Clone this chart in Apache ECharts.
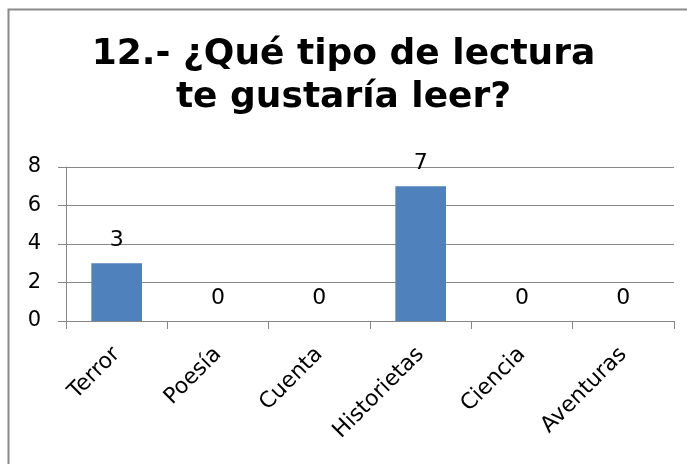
<!DOCTYPE html>
<html>
<head>
<meta charset="utf-8">
<script src="https://cdn.jsdelivr.net/npm/echarts@6/dist/echarts.min.js"></script>
<style>html,body{margin:0;padding:0;background:#fff}#c{width:687px;height:464px}</style>
</head>
<body>
<div id="c"></div>
<script>
const titleText = '12.- ¿Qué tipo de lectura\nte gustaría leer?';
const categories = ['Terror', 'Poesía', 'Cuenta', 'Historietas', 'Ciencia', 'Aventuras'];
const values = [3, 0, 0, 7, 0, 0];
const yMin = 0, yMax = 8, yInterval = 2;

const FONT = '"DejaVu Sans", sans-serif';
const chart = echarts.init(document.getElementById('c'));
chart.setOption({
  animation: false,
  backgroundColor: '#fff',
  title: {
    text: titleText,
    left: 'center',
    top: 28,
    textStyle: { fontFamily: FONT, fontWeight: 'bold', fontSize: 36, lineHeight: 43, color: '#000' }
  },
  graphic: [{
    type: 'rect',
    shape: { x: 8.5, y: 9.5, width: 720, height: 520 },
    style: { fill: 'none', stroke: '#8a8a8a', lineWidth: 2 },
    silent: true
  }],
  grid: { left: 66, right: 13, top: 167, bottom: 143, containLabel: false },
  xAxis: {
    type: 'category',
    data: categories,
    axisLine: { show: true, lineStyle: { color: '#868686', width: 1 } },
    axisTick: { show: true, alignWithLabel: false, length: 8, lineStyle: { color: '#868686' } },
    axisLabel: { rotate: 45, margin: 30, fontFamily: FONT, fontSize: 22, color: '#000', interval: 0 }
  },
  yAxis: {
    type: 'value',
    min: yMin, max: yMax, interval: yInterval,
    axisLine: { show: true, lineStyle: { color: '#868686', width: 1 } },
    axisTick: { show: true, length: 8, lineStyle: { color: '#868686' } },
    axisLabel: { margin: 25, fontFamily: FONT, fontSize: 21, color: '#000' },
    splitLine: { show: true, lineStyle: { color: '#868686', width: 1 } }
  },
  series: [{
    type: 'bar',
    data: values,
    barWidth: '50%',
    itemStyle: { color: '#4f81bd' },
    label: { show: true, position: 'top', distance: 12, fontFamily: FONT, fontSize: 22, color: '#000' }
  }]
});
</script>
</body>
</html>
